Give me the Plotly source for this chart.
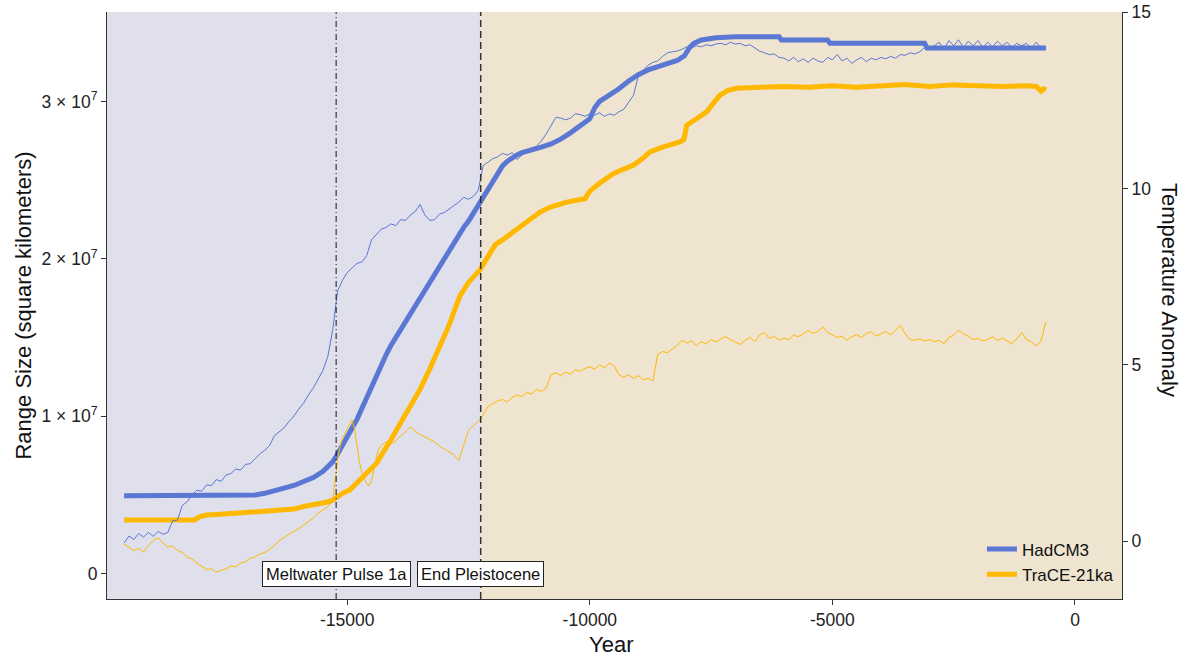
import plotly.graph_objects as go

# ---------------------------------------------------------------- data
# Range size (square kilometres), thick lines, left axis
hadcm3_range_years = [-19600, -17100, -16900, -16700, -16500, -16300, -16100, -15900, -15700, -15500,
                      -15300, -15200, -15100, -15000, -14900, -14800, -14700, -14600, -14500, -14400,
                      -14300, -14200, -14100, -14000, -13900, -13800, -13700, -13600, -13500, -13400,
                      -13300, -13200, -13100, -13000, -12900, -12800, -12700, -12600, -12500, -12400,
                      -12300, -12200, -12100, -12000, -11900, -11800, -11700, -11600, -11500, -11400,
                      -11200, -11000, -10800, -10600, -10400, -10200, -10000, -9900, -9800, -9600,
                      -9400, -9200, -9000, -8800, -8600, -8400, -8200, -8050, -7950, -7850,
                      -7700, -7400, -7000, -6100, -6050, -5100, -5050, -3100, -3050, -600]
hadcm3_range = [0.494, 0.494, 0.500, 0.510, 0.525, 0.540, 0.560, 0.585, 0.610, 0.650,
                0.710, 0.760, 0.820, 0.870, 0.925, 0.980, 1.050, 1.120, 1.190, 1.260,
                1.330, 1.390, 1.450, 1.500, 1.550, 1.610, 1.660, 1.710, 1.760, 1.810,
                1.860, 1.910, 1.950, 2.000, 2.050, 2.100, 2.150, 2.200, 2.240, 2.290,
                2.340, 2.390, 2.450, 2.500, 2.550, 2.590, 2.620, 2.645, 2.660, 2.675,
                2.690, 2.710, 2.730, 2.760, 2.800, 2.850, 2.890, 2.960, 3.000, 3.040,
                3.080, 3.130, 3.170, 3.200, 3.220, 3.235, 3.260, 3.290, 3.340, 3.370,
                3.390, 3.405, 3.410, 3.410, 3.390, 3.390, 3.370, 3.370, 3.340, 3.340]

trace_range_years = [-19600, -18150, -18050, -17900, -17700, -17400, -17100, -16800, -16400, -16100,
                     -15900, -15600, -15400, -15290, -15200, -15100, -14945, -14800, -14600, -14400,
                     -14258, -14100, -13915, -13700, -13500, -13300, -13090, -12900, -12678, -12500,
                     -12265, -12059, -11950, -11800, -11508, -11300, -11027, -10800, -10477, -10100,
                     -10000, -9800, -9516, -9300, -9105, -8900, -8761, -8500, -8142, -8060,
                     -8004, -7800, -7592, -7450, -7318, -7150, -6973, -6500, -6000, -5500,
                     -5000, -4500, -4000, -3500, -3000, -2500, -2000, -1500, -1000, -800,
                     -700, -650, -600]
trace_range = [0.341, 0.341, 0.360, 0.372, 0.375, 0.382, 0.385, 0.390, 0.400, 0.410,
               0.426, 0.440, 0.455, 0.469, 0.490, 0.510, 0.532, 0.580, 0.639, 0.700,
               0.766, 0.850, 0.950, 1.060, 1.170, 1.300, 1.446, 1.580, 1.765, 1.850,
               1.930, 2.040, 2.090, 2.120, 2.190, 2.240, 2.297, 2.330, 2.360, 2.382,
               2.430, 2.480, 2.541, 2.570, 2.594, 2.640, 2.679, 2.710, 2.743, 2.760,
               2.849, 2.890, 2.934, 2.990, 3.040, 3.070, 3.083, 3.090, 3.095, 3.090,
               3.100, 3.090, 3.100, 3.108, 3.095, 3.105, 3.100, 3.095, 3.100, 3.095,
               3.066, 3.080, 3.072]
range_unit = 1e7  # range values above are in units of 10^7 km²

# Temperature anomaly, thin lines, right axis
hadcm3_temp_years = list(range(-19600, -600, 100))
hadcm3_temp = [
    -0.05, 0.15, 0.05, 0.22, 0.12, 0.25, 0.14, 0.28, 0.20, 0.25,
    0.58, 0.60, 1.02, 1.12, 1.32, 1.45, 1.42, 1.60, 1.58, 1.75,
    1.70, 1.88, 1.92, 2.05, 2.02, 2.18, 2.20, 2.35, 2.48, 2.58,
    2.72, 3.00, 3.12, 3.22, 3.40, 3.55, 3.75, 3.92, 4.15, 4.35,
    4.60, 4.85, 5.25, 6.00, 7.10, 7.40, 7.62, 7.75, 7.88, 7.92,
    8.10, 8.55, 8.70, 8.85, 8.90, 9.00, 8.95, 9.12, 9.10, 9.25,
    9.35, 9.55, 9.25, 9.10, 9.12, 9.28, 9.32, 9.42, 9.50, 9.62,
    9.75, 9.70, 9.78, 9.95, 10.65, 10.75, 10.85, 10.90, 11.00, 10.95,
    11.02, 10.82, 10.95, 11.05, 11.15, 11.20, 11.35, 11.55, 11.80, 12.02,
    12.00, 11.95, 12.00, 12.12, 12.10, 12.05, 12.12, 12.08, 12.15, 12.05,
    12.12, 12.08, 12.18, 12.25, 12.45, 12.65, 13.20, 13.35, 13.50, 13.58,
    13.62, 13.75, 13.85, 13.88, 13.90, 13.95, 14.02, 14.00, 14.05, 14.02,
    14.08, 14.05, 14.10, 14.12, 14.08, 14.15, 14.10, 14.12, 14.05, 14.08,
    14.00, 13.90, 13.85, 13.80, 13.82, 13.72, 13.70, 13.62, 13.72, 13.60,
    13.68, 13.58, 13.70, 13.62, 13.58, 13.72, 13.65, 13.80, 13.62, 13.70,
    13.55, 13.65, 13.72, 13.60, 13.70, 13.65, 13.72, 13.68, 13.75, 13.70,
    13.80, 13.78, 13.85, 13.82, 13.88, 14.00, 13.95, 14.05, 14.15, 13.95,
    14.20, 14.05, 14.22, 14.00, 14.18, 14.05, 14.20, 14.00, 14.15, 14.02,
    14.18, 14.05, 14.15, 14.00, 14.12, 14.05, 14.12, 13.98, 14.15, 13.98,
]

# TraCE-21ka temperature: glacial part, meltwater spike (50-year steps), deglacial/Holocene part
trace_temp_years_glacial = list(range(-19600, -15300, 100))
trace_temp_glacial = [
    -0.08, -0.18, -0.26, -0.20, -0.30, -0.12, 0.02, 0.10, -0.05, -0.16,
    -0.14, -0.26, -0.32, -0.45, -0.50, -0.62, -0.70, -0.80, -0.78, -0.88,
    -0.82, -0.78, -0.70, -0.72, -0.62, -0.58, -0.48, -0.44, -0.36, -0.32,
    -0.22, -0.12, 0.03, 0.10, 0.20, 0.27, 0.36, 0.46, 0.55, 0.66,
    0.80, 0.90, 0.98,
]
trace_temp_years_pulse = list(range(-15300, -14300, 50))
trace_temp_pulse = [
    1.15, 1.80, 2.30, 2.68, 2.92, 3.05, 3.18, 3.35, 3.44, 3.20,
    2.75, 2.25, 1.95, 1.78, 1.62, 1.58, 1.72, 2.05, 2.40, 2.62,
]
trace_temp_years_late = list(range(-14300, -500, 100))
trace_temp_late = [
    2.72, 2.82, 2.76, 2.85, 2.98, 3.10, 3.24, 3.12, 3.02, 2.96,
    2.90, 2.82, 2.70, 2.62, 2.55, 2.45, 2.30, 2.70, 3.15, 3.28,
    3.40, 3.58, 3.82, 3.90, 3.98, 4.02, 3.95, 4.08, 4.15, 4.10,
    4.22, 4.18, 4.30, 4.25, 4.35, 4.72, 4.78, 4.70, 4.80, 4.74,
    4.86, 4.82, 4.90, 4.95, 4.88, 5.00, 4.92, 5.05, 4.98, 4.72,
    4.65, 4.72, 4.62, 4.70, 4.58, 4.62, 4.55, 5.30, 5.38, 5.35,
    5.45, 5.55, 5.70, 5.62, 5.68, 5.55, 5.66, 5.60, 5.72, 5.65,
    5.74, 5.80, 5.72, 5.65, 5.58, 5.70, 5.78, 5.66, 5.85, 5.92,
    5.75, 5.82, 5.70, 5.76, 5.72, 5.85, 5.80, 5.88, 5.98, 5.90,
    5.95, 6.08, 5.92, 5.85, 5.78, 5.82, 5.70, 5.80, 5.86, 5.78,
    5.90, 5.94, 5.82, 5.88, 5.95, 5.85, 6.00, 6.12, 5.88, 5.72,
    5.70, 5.74, 5.68, 5.72, 5.66, 5.70, 5.60, 5.78, 5.85, 5.98,
    5.88, 5.82, 5.72, 5.75, 5.68, 5.72, 5.80, 5.70, 5.76, 5.68,
    5.60, 5.74, 5.92, 5.72, 5.66, 5.54, 5.68, 6.22,
]
trace_temp_years = trace_temp_years_glacial + trace_temp_years_pulse + trace_temp_years_late
trace_temp = trace_temp_glacial + trace_temp_pulse + trace_temp_late

# Events marked on the time axis
event_years = [-15230, -12250]
event_labels = ["Meltwater Pulse 1a", "End Pleistocene"]

# Axis ticks
x_tick_vals = [-15000, -10000, -5000, 0]
x_tick_text = ["-15000", "-10000", "-5000", "0"]
y_tick_vals = [0, 1e7, 2e7, 3e7]
y_tick_text = ["0", "1 × 10<sup>7</sup>", "2 × 10<sup>7</sup>", "3 × 10<sup>7</sup>"]
y2_tick_vals = [0, 5, 10, 15]
y2_tick_text = ["0", "5", "10", "15"]

# ---------------------------------------------------------------- style
BLUE = "#5A77D3"
GOLD = "#FFB800"
PLEISTOCENE_BG = "#DFE0EC"
HOLOCENE_BG = "#EEE4CF"
AXIS = "#333333"
FONT = "Liberation Sans, Arial, sans-serif"

X_RANGE = [-19953, 969]
Y_RANGE = [-0.1614e7, 3.568e7]
Y2_RANGE = [-1.636, 15.008]

fig = go.Figure()

fig.add_trace(go.Scatter(
    x=hadcm3_range_years, y=[v * range_unit for v in hadcm3_range],
    mode="lines", name="HadCM3", line=dict(color=BLUE, width=5),
    legendrank=1,
))
fig.add_trace(go.Scatter(
    x=trace_range_years, y=[v * range_unit for v in trace_range],
    mode="lines", name="TraCE-21ka", line=dict(color=GOLD, width=5),
    legendrank=2,
))
fig.add_trace(go.Scatter(
    x=hadcm3_temp_years, y=hadcm3_temp, yaxis="y2",
    mode="lines", name="HadCM3 temperature", showlegend=False,
    line=dict(color=BLUE, width=1),
))
fig.add_trace(go.Scatter(
    x=trace_temp_years, y=trace_temp, yaxis="y2",
    mode="lines", name="TraCE-21ka temperature", showlegend=False,
    line=dict(color=GOLD, width=1),
))

# period shading behind the data
fig.add_shape(type="rect", xref="x", yref="paper", x0=X_RANGE[0], x1=event_years[1],
              y0=0, y1=1, fillcolor=PLEISTOCENE_BG, line_width=0, layer="below")
fig.add_shape(type="rect", xref="x", yref="paper", x0=event_years[1], x1=X_RANGE[1],
              y0=0, y1=1, fillcolor=HOLOCENE_BG, line_width=0, layer="below")

# event markers
fig.add_shape(type="line", xref="x", yref="paper", x0=event_years[0], x1=event_years[0],
              y0=0, y1=1, line=dict(color="#111111", width=1, dash="6px,3px,1px,3px"),
              layer="above")
fig.add_shape(type="line", xref="x", yref="paper", x0=event_years[1], x1=event_years[1],
              y0=0, y1=1, line=dict(color="#333333", width=1.5, dash="7px,4px"),
              layer="above")

for yr, label in zip(event_years, event_labels):
    fig.add_annotation(x=yr, y=0, xref="x", yref="y", text=label, showarrow=False,
                       font=dict(family=FONT, size=16.5, color="#111111"),
                       bgcolor="white", bordercolor="#222222", borderwidth=1, borderpad=3,
                       xanchor="center", yanchor="middle")

# axis titles placed as free text so they can sit at the page edges
fig.add_annotation(x=1.047, y=0.527, xref="paper", yref="paper", text="Temperature Anomaly",
                   textangle=90, showarrow=False, xanchor="center", yanchor="middle",
                   font=dict(family=FONT, size=22, color="#111111"))
fig.add_annotation(x=0.497, y=-0.052, xref="paper", yref="paper", text="Year",
                   showarrow=False, xanchor="center", yanchor="top",
                   font=dict(family=FONT, size=22, color="#111111"))

axis_common = dict(showline=True, linecolor=AXIS, linewidth=1, ticks="outside", ticklen=5,
                   tickcolor=AXIS, tickwidth=1, showgrid=False, zeroline=False,
                   tickfont=dict(family=FONT, size=17.5, color="#222222"))

fig.update_layout(
    width=1189, height=652,
    margin=dict(l=107, r=67, t=12, b=53, autoexpand=False),
    paper_bgcolor="white", plot_bgcolor="white",
    font=dict(family=FONT, color="#111111"),
    xaxis=dict(range=X_RANGE, tickmode="array", tickvals=x_tick_vals, ticktext=x_tick_text,
               automargin=False, **axis_common),
    yaxis=dict(range=Y_RANGE, tickmode="array", tickvals=y_tick_vals, ticktext=y_tick_text,
               title=dict(text="Range Size (square kilometers)", font=dict(family=FONT, size=22),
                          standoff=3),
               automargin=False, **axis_common),
    yaxis2=dict(range=Y2_RANGE, overlaying="y", side="right", tickmode="array",
                tickvals=y2_tick_vals, ticktext=y2_tick_text, automargin=False, **axis_common),
    legend=dict(x=0.997, y=0.011, xanchor="right", yanchor="bottom",
                bgcolor="rgba(0,0,0,0)", borderwidth=0, itemwidth=30,
                font=dict(family=FONT, size=17, color="#111111"),
                traceorder="normal", tracegroupgap=0),
    showlegend=True,
)

fig.write_html("out.html", config={"displayModeBar": False})
